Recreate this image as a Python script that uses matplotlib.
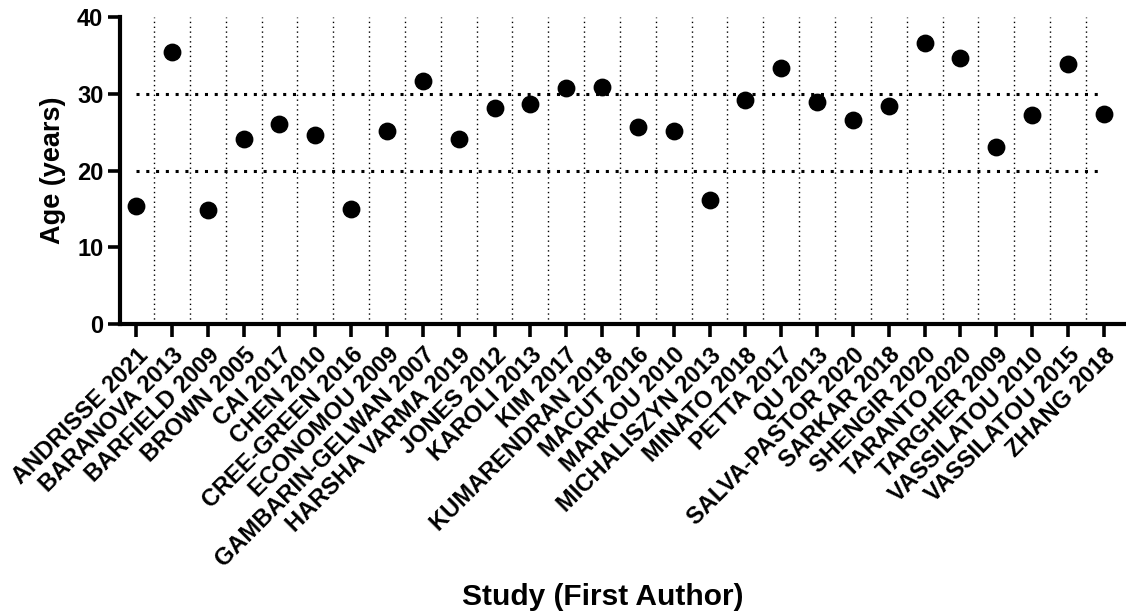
import matplotlib
matplotlib.use("Agg")
import matplotlib.pyplot as plt

studies = ["ANDRISSE 2021", "BARANOVA 2013", "BARFIELD 2009", "BROWN 2005", "CAI 2017",
           "CHEN 2010", "CREE-GREEN 2016", "ECONOMOU 2009", "GAMBARIN-GELWAN 2007",
           "HARSHA VARMA 2019", "JONES 2012", "KAROLI 2013", "KIM 2017", "KUMARENDRAN 2018",
           "MACUT 2016", "MARKOU 2010", "MICHALISZYN 2013", "MINATO 2018", "PETTA 2017",
           "QU 2013", "SALVA-PASTOR 2020", "SARKAR 2018", "SHENGIR 2020", "TARANTO 2020",
           "TARGHER 2009", "VASSILATOU 2010", "VASSILATOU 2015", "ZHANG 2018"]
ages = [15.4, 35.5, 14.9, 24.1, 26.0, 24.6, 15.0, 25.1, 31.6, 24.1, 28.2, 28.7, 30.7, 30.9,
        25.7, 25.1, 16.1, 29.2, 33.3, 28.9, 26.6, 28.4, 36.6, 34.7, 23.1, 27.2, 33.9, 27.3]
ref_lines = [20, 30]
yticks = [0, 10, 20, 30, 40]

plt.rcParams['font.family'] = ['Liberation Sans', 'DejaVu Sans']
plt.rcParams['font.weight'] = 'bold'

fig = plt.figure(figsize=(11.26, 6.12), dpi=100)
ax = fig.add_axes([120/1126, 1-324/612, (1126-120)/1126, (324-17)/612])

x = list(range(len(studies)))
for i in range(len(studies) - 1):
    ax.axvline(i + 0.5, color='black', linestyle=(0, (1, 2.5)), linewidth=1.0, zorder=1)
ax.hlines(ref_lines, 0, len(studies) - 1, colors='black', linestyles=(0, (1, 2.2)), linewidth=2.2, zorder=1)
ax.scatter(x, ages, s=140, color='black', zorder=3, clip_on=False)

ax.set_xlim(-0.45, len(studies) - 0.38)
ax.set_ylim(0, 40)
ax.set_yticks(yticks)
ax.set_xticks(x)
ax.set_xticklabels(studies, rotation=45, ha='right', rotation_mode='anchor', fontsize=17, fontweight='bold')
ax.tick_params(axis='y', labelsize=17, width=2.6, length=9, pad=3)
ax.tick_params(axis='x', width=2.6, length=9, pad=5)
for lab in ax.get_yticklabels():
    lab.set_fontweight('bold')

for s in ['top', 'right']:
    ax.spines[s].set_visible(False)
for s in ['left', 'bottom']:
    ax.spines[s].set_linewidth(3.0)

ax.set_ylabel('Age (years)', fontsize=19.5, fontweight='bold', labelpad=8)
fig.text(603/1126, 1-597/612, 'Study (First Author)', fontsize=21.5, fontweight='bold',
         ha='center', va='center')

fig.savefig('out.png', dpi=100)
